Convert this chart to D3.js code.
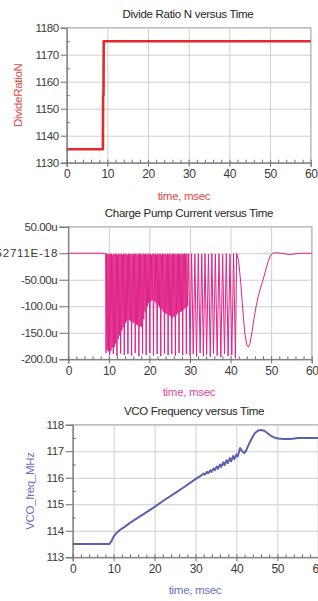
<!DOCTYPE html>
<html>
<head>
<meta charset="utf-8">
<script src="https://cdn.jsdelivr.net/npm/d3@7"></script>
<style>
  body { margin: 0; background: #fff; }
  svg { display: block; font-family: 'Liberation Sans', Arial, sans-serif; }
  .tick text { fill: #3a3a3a; font-size: 11.5px; letter-spacing: -0.4px; }
  .grid line { stroke: #cfcfcf; stroke-width: 1; }
  .grid path { display: none; }
  .axis path, .axis line { stroke: #6e6e6e; }
</style>
</head>
<body>
<script>
'use strict';

// x axis is shared by all three plots
let timeTicks = [0, 10, 20, 30, 40, 50, 60];
let timeMinor = [2, 4, 6, 8, 12, 14, 16, 18, 22, 24, 26, 28, 32, 34, 36, 38, 42, 44, 46, 48, 52, 54, 56, 58];

// Divide Ratio N
let divTime = [0, 8.9, 8.95, 9.05, 9.1, 60];
let divN = [1135, 1135, 1155, 1155, 1175, 1175];
let divTicks = [1130, 1140, 1150, 1160, 1170, 1180];
let divMinor = [1135, 1145, 1155, 1165, 1175];

// Charge pump current (uA)
let cpTime = [
  0, 9.2,
  9.30, 9.45, 9.60, 9.75, 9.90, 10.05, 10.20, 10.35, 10.50, 10.65, 10.80, 10.95,
  11.10, 11.25, 11.40, 11.55, 11.70, 11.85, 12.00, 12.15, 12.30, 12.45, 12.60, 12.75,
  12.90, 13.05, 13.20, 13.35, 13.50, 13.65, 13.80, 13.95, 14.10, 14.25, 14.40, 14.55,
  14.70, 14.85, 15.00, 15.15, 15.30, 15.45, 15.60, 15.75, 15.90, 16.05, 16.20, 16.35,
  16.50, 16.65, 16.80, 16.95, 17.10, 17.25, 17.40, 17.55, 17.70, 17.85, 18.00, 18.15,
  18.30, 18.45, 18.60, 18.75, 18.90, 19.05, 19.20, 19.35, 19.50, 19.65, 19.80, 19.95,
  20.10, 20.25, 20.40, 20.55, 20.70, 20.85, 21.00, 21.15, 21.30, 21.45, 21.60, 21.75,
  21.90, 22.05, 22.20, 22.35, 22.50, 22.65, 22.80, 22.95, 23.10, 23.25, 23.40, 23.55,
  23.70, 23.85, 24.00, 24.15, 24.30, 24.45, 24.60, 24.75, 24.90, 25.05, 25.20, 25.35,
  25.50, 25.65, 25.80, 25.95, 26.10, 26.25, 26.40, 26.55, 26.70, 26.85, 27.00, 27.15,
  27.30, 27.45, 27.60, 27.75, 27.90, 28.05, 28.20, 28.35, 28.50, 28.65, 28.80, 28.95,
  29.10, 29.25, 29.40, 29.70,
  30.0, 30.4, 30.8, 31.2, 31.6, 32.05, 32.5, 32.9, 33.3, 33.7, 34.1, 34.55, 35.0, 35.4,
  35.8, 36.25, 36.7, 37.15, 37.6, 38.05, 38.5, 38.95, 39.4, 39.85, 40.3, 40.75, 41.2, 41.5,
  42.0, 42.5, 43.0, 43.5, 44.0, 44.4, 44.8, 45.3, 45.8, 46.3, 46.8, 47.3, 47.8, 48.3,
  48.8, 49.3, 49.8, 50.3, 51.0, 52.5, 54.5, 56.5, 58.0, 60.0
];
let cpCurrent = [
  0, 0,
  -188, -1, -182, -2, -185, -1, -192, -2, -184, -1, -178, -3,
  -190, -1, -176, -2, -170, -1, -194, -3, -162, -1, -155, -2,
  -189, -1, -146, -3, -140, -1, -192, -2, -132, -1, -128, -3,
  -190, -1, -126, -2, -128, -1, -193, -3, -130, -1, -132, -2,
  -188, -1, -134, -3, -136, -1, -194, -2, -138, -1, -139, -3,
  -190, -1, -124, -2, -110, -1, -192, -3, -100, -1, -94, -2,
  -188, -1, -90, -3, -88, -1, -193, -2, -90, -1, -94, -3,
  -190, -1, -98, -2, -102, -1, -194, -3, -106, -1, -110, -2,
  -189, -1, -113, -3, -115, -1, -192, -2, -117, -1, -119, -3,
  -190, -1, -121, -2, -119, -1, -193, -3, -116, -1, -113, -2,
  -188, -1, -111, -3, -109, -1, -192, -2, -106, -1, -103, -2,
  -190, -1, -99, -1,
  -193, -1, -190, -2, -195, -1, -188, -2, -194, -1, -191, -2, -195, -1,
  -189, -2, -193, -1, -196, -2, -190, -1, -194, -2, -192, -1, -198, 0,
  -15, -55, -105, -150, -173, -177, -170, -148, -122, -100, -82, -68, -55, -42,
  -28, -15, -5, -0.5, 1, 0, -2.5, -0.5, 0, 0
];
let cpTicks = [-200, -150, -100, -50, 0, 50];
let cpTickText = ['-200.0u', '-150.0u', '-100.0u', '-50.00u', '-3.252711E-18', '50.00u'];

// VCO frequency (MHz)
let vcoTime = [
  0, 9.0, 9.5, 10, 10.7, 11.5, 12.5, 14, 15, 17.5, 20, 22.5, 25, 27.5, 30, 31.5,
  32.0, 32.3, 32.8, 33.1, 33.6, 33.9, 34.4, 34.7, 35.2, 35.5, 36.0, 36.3, 36.8, 37.1,
  37.6, 37.9, 38.4, 38.7, 39.2, 39.5, 40.0, 40.3, 40.9, 41.3, 41.9, 42.3, 43.0, 43.8,
  44.5, 45.3, 46.0, 46.8, 47.6, 48.4, 49.2, 50.2, 51.5, 53, 54.2, 55, 60
];
let vcoFreq = [
  113.5, 113.5, 113.62, 113.78, 113.92, 114.03, 114.13, 114.3, 114.4, 114.65, 114.9, 115.17, 115.42, 115.68, 115.95, 116.1,
  116.16, 116.12, 116.22, 116.17, 116.28, 116.22, 116.35, 116.28, 116.42, 116.34, 116.5, 116.41, 116.58, 116.48,
  116.66, 116.55, 116.74, 116.62, 116.82, 116.7, 116.88, 116.8, 117.12, 117.02, 116.93, 117.0, 117.25, 117.5,
  117.68, 117.78, 117.8, 117.77, 117.68, 117.58, 117.52, 117.48, 117.46, 117.46, 117.48, 117.5, 117.5
];
let vcoTicks = [113, 114, 115, 116, 117, 118];
let vcoMinor = [113.5, 114.5, 115.5, 116.5, 117.5];

let svg = d3.select('body')
  .append('svg')
  .attr('width', 318)
  .attr('height', 601);

// draw one plot panel: grid, frame, axes, line, labels
function drawPanel(p) {
  let g = svg.append('g');
  let w = p.right - p.left;
  let h = p.bottom - p.top;

  let x = d3.scaleLinear().domain([0, 60]).range([p.left, p.right]);
  let y = d3.scaleLinear().domain(p.yDomain).range([p.bottom, p.top]);

  // grid
  g.append('g')
    .attr('class', 'grid')
    .attr('transform', 'translate(0,' + p.bottom + ')')
    .call(d3.axisBottom(x).tickValues(timeTicks).tickSize(-h).tickFormat(''));
  g.append('g')
    .attr('class', 'grid')
    .attr('transform', 'translate(' + p.left + ',0)')
    .call(d3.axisLeft(y).tickValues(p.yTicks).tickSize(-w).tickFormat(''));

  g.append('rect')
    .attr('x', p.left).attr('y', p.top)
    .attr('width', w).attr('height', h)
    .attr('fill', 'none')
    .attr('stroke', '#b4b4b4');

  // data line
  let pts = p.times.map((t, i) => [t, p.values[i]]);
  let line = d3.line()
    .x((d) => x(d[0]))
    .y((d) => y(d[1]));
  g.append('path')
    .datum(pts)
    .attr('fill', 'none')
    .attr('stroke', p.color)
    .attr('stroke-width', p.lineWidth)
    .attr('stroke-linejoin', 'round')
    .attr('d', line);

  // bottom axis, majors out, minors in
  let xAxis = g.append('g')
    .attr('class', 'axis')
    .attr('transform', 'translate(0,' + p.bottom + ')')
    .call(d3.axisBottom(x).tickValues(timeTicks).tickSize(4).tickPadding(3).tickFormat(d3.format('d')));
  xAxis.selectAll('text').style('font-size', '12px');
  g.append('g')
    .attr('class', 'axis')
    .attr('transform', 'translate(0,' + p.bottom + ')')
    .call(d3.axisTop(x).tickValues(timeMinor.concat(timeTicks)).tickSize(3).tickFormat(''))
    .select('.domain').remove();

  // left axis
  let yAxis = g.append('g')
    .attr('class', 'axis')
    .attr('transform', 'translate(' + p.left + ',0)')
    .call(d3.axisLeft(y).tickValues(p.yTicks).tickSize(p.tickLen).tickPadding(2)
      .tickFormat((d, i) => p.yText ? p.yText[i] : d));
  // the long zero label is wider in the original and runs off the left edge
  yAxis.selectAll('text')
    .filter((d) => p.yText && d === 0)
    .style('letter-spacing', '0.8px')
    .attr('dx', '0.8');
  if (p.yMinor) {
    g.append('g')
      .attr('class', 'axis')
      .attr('transform', 'translate(' + p.left + ',0)')
      .call(d3.axisRight(y).tickValues(p.yMinor).tickSize(3).tickFormat(''))
      .select('.domain').remove();
  }

  // title and labels
  g.append('text')
    .attr('x', p.titleX)
    .attr('y', p.top - 10)
    .attr('text-anchor', 'middle')
    .style('font-size', '11.5px')
    .style('letter-spacing', '-0.3px')
    .attr('fill', '#262626')
    .text(p.title);

  g.append('text')
    .attr('x', p.xLabelX)
    .attr('y', p.bottom + 37)
    .attr('text-anchor', 'middle')
    .style('font-size', '11.5px')
    .style('letter-spacing', '-0.3px')
    .attr('fill', p.labelColor)
    .text('time, msec');

  if (p.yLabel) {
    g.append('text')
      .attr('transform', 'translate(' + p.yLabelX + ',' + (p.top + h / 2) + ')rotate(-90)')
      .attr('text-anchor', 'middle')
      .style('font-size', '11.5px')
      .style('letter-spacing', '-0.3px')
      .attr('fill', p.labelColor)
      .text(p.yLabel);
  }
}

drawPanel({
  left: 66.7, right: 310.7, top: 27.7, bottom: 162.7,
  yDomain: [1130, 1180], yTicks: divTicks, yMinor: divMinor, tickLen: 6,
  times: divTime, values: divN, color: '#e8262b', lineWidth: 2.6,
  title: 'Divide Ratio N versus Time', titleX: 188,
  xLabelX: 184, labelColor: '#e34848',
  yLabel: 'DivideRatioN', yLabelX: 22
});

drawPanel({
  left: 68.3, right: 311.7, top: 226.7, bottom: 359.3,
  yDomain: [-200, 50], yTicks: cpTicks, yText: cpTickText, tickLen: 9,
  times: cpTime, values: cpCurrent, color: '#df2288', lineWidth: 1,
  title: 'Charge Pump Current versus Time', titleX: 189,
  xLabelX: 189, labelColor: '#e0489a'
});

drawPanel({
  left: 72.7, right: 318.3, top: 424.7, bottom: 557.3,
  yDomain: [113, 118], yTicks: vcoTicks, yMinor: vcoMinor, tickLen: 7,
  times: vcoTime, values: vcoFreq, color: '#5a62ae', lineWidth: 2,
  title: 'VCO Frequency versus Time', titleX: 194,
  xLabelX: 195, labelColor: '#6a72c0',
  yLabel: 'VCO_freq_MHz', yLabelX: 34
});
</script>
</body>
</html>
